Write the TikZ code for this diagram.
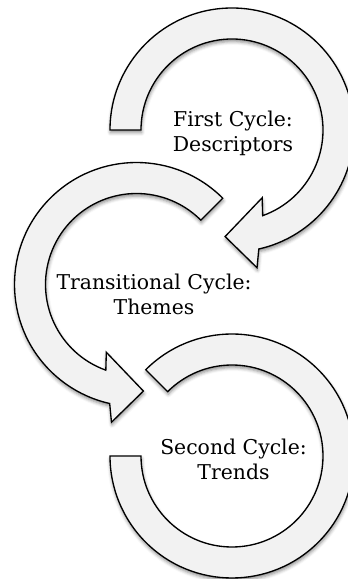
\documentclass[tikz,border=0pt]{standalone}
\usepackage{fontspec}
\setmainfont{DejaVu Serif}
\usetikzlibrary{calc,shadows.blur}
\definecolor{ringfill}{HTML}{F2F2F2}

\begin{document}
\begin{tikzpicture}[
    x=0.75pt, y=0.75pt,
    ring/.style={draw=black, fill=ringfill, line width=1pt,
                 blur shadow={shadow xshift=0.4pt, shadow yshift=-2pt,
                              shadow blur radius=2.5pt, shadow opacity=45}},
    cycletext/.style={align=center, inner sep=0pt,
                      font=\fontsize{15.3}{18.75}\selectfont},
]
\useasboundingbox (0,0) rectangle (348,579);

% Mittelpunkte der drei Ringe
\coordinate (first)  at (232,449);
\coordinate (trans)  at (136.5,294.5);
\coordinate (second) at (232,123);

% Unten: Second Cycle (ohne Spitze)
\path[ring] ($(second)+(135:122)$) arc[start angle=135, end angle=-180, radius=122]
    -- ($(second)+(180:91)$) arc[start angle=-180, end angle=135, radius=91] -- cycle;

% Mitte: Transitional Cycle
\path[ring] ($(trans)+(45:122)$) arc[start angle=45, end angle=257.3, radius=122]
    -- ($(trans)+(259.7:140)$) -- ($(trans)+(273.7:106.8)$)
    -- ($(trans)+(246:74.2)$) -- ($(trans)+(250.3:91)$)
    arc[start angle=250.3, end angle=45, radius=91] -- cycle;

% Oben: First Cycle
\path[ring] ($(first)+(180:122)$) arc[start angle=180, end angle=-77.3, radius=122]
    -- ($(first)+(-79.7:140)$) -- ($(first)+(-93.7:106.8)$)
    -- ($(first)+(-66:74.2)$) -- ($(first)+(-70.3:91)$)
    arc[start angle=-70.3, end angle=180, radius=91] -- cycle;

% Texte
\node[cycletext] (firstlabel)  at (233,446)   {First Cycle:\\Descriptors};
\node[cycletext] (translabel)  at (154,284.3) {Transitional Cycle:\\Themes};
\node[cycletext] (secondlabel) at (233.5,119.5) {Second Cycle:\\Trends};

\end{tikzpicture}
\end{document}
